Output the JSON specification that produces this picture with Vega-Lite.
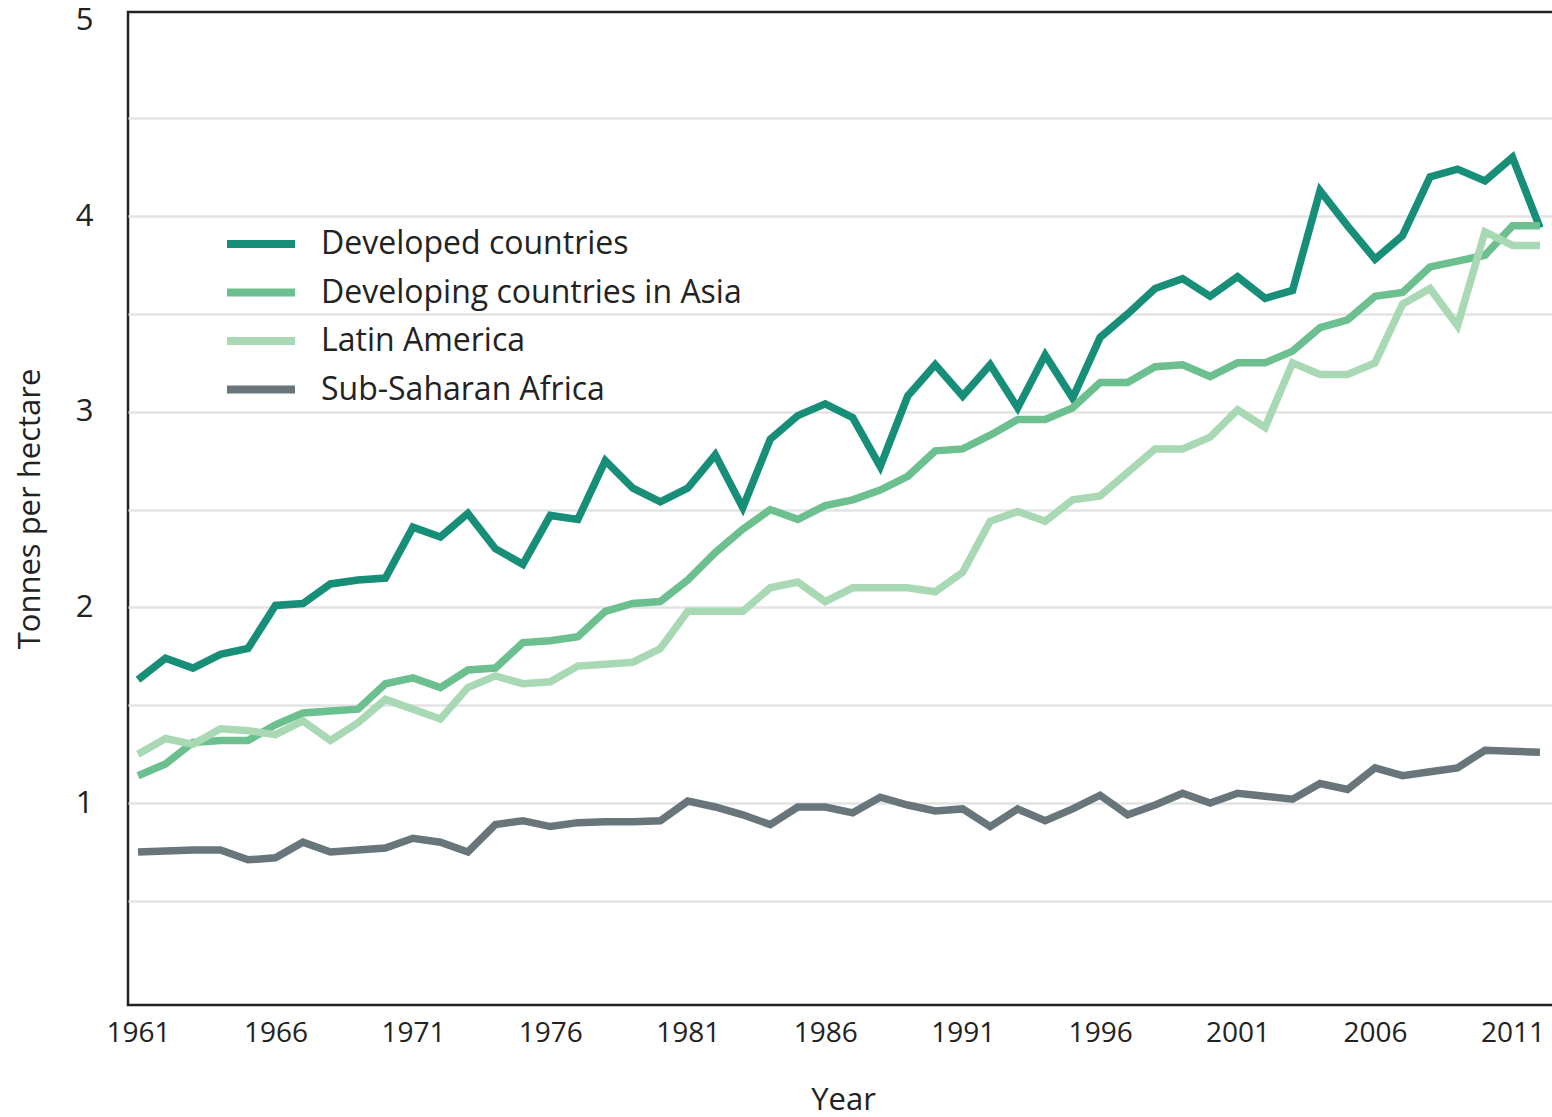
{
  "$schema": "https://vega.github.io/schema/vega-lite/v6.json",
  "width": 1430,
  "height": 993,
  "autosize": {"type": "none"},
  "padding": {"left": 128, "top": 12, "right": 0, "bottom": 112},
  "background": "white",
  "config": {
    "view": {"stroke": "#222222", "strokeWidth": 2.5},
    "font": "Open Sans"
  },
  "data": {
    "values": [
      {"year":1961,"region":"Developed countries","yield":1.63},
      {"year":1962,"region":"Developed countries","yield":1.74},
      {"year":1963,"region":"Developed countries","yield":1.69},
      {"year":1964,"region":"Developed countries","yield":1.76},
      {"year":1965,"region":"Developed countries","yield":1.79},
      {"year":1966,"region":"Developed countries","yield":2.01},
      {"year":1967,"region":"Developed countries","yield":2.02},
      {"year":1968,"region":"Developed countries","yield":2.12},
      {"year":1969,"region":"Developed countries","yield":2.14},
      {"year":1970,"region":"Developed countries","yield":2.15},
      {"year":1971,"region":"Developed countries","yield":2.41},
      {"year":1972,"region":"Developed countries","yield":2.36},
      {"year":1973,"region":"Developed countries","yield":2.48},
      {"year":1974,"region":"Developed countries","yield":2.30},
      {"year":1975,"region":"Developed countries","yield":2.22},
      {"year":1976,"region":"Developed countries","yield":2.47},
      {"year":1977,"region":"Developed countries","yield":2.45},
      {"year":1978,"region":"Developed countries","yield":2.75},
      {"year":1979,"region":"Developed countries","yield":2.61},
      {"year":1980,"region":"Developed countries","yield":2.54},
      {"year":1981,"region":"Developed countries","yield":2.61},
      {"year":1982,"region":"Developed countries","yield":2.78},
      {"year":1983,"region":"Developed countries","yield":2.51},
      {"year":1984,"region":"Developed countries","yield":2.86},
      {"year":1985,"region":"Developed countries","yield":2.98},
      {"year":1986,"region":"Developed countries","yield":3.04},
      {"year":1987,"region":"Developed countries","yield":2.97},
      {"year":1988,"region":"Developed countries","yield":2.72},
      {"year":1989,"region":"Developed countries","yield":3.08},
      {"year":1990,"region":"Developed countries","yield":3.24},
      {"year":1991,"region":"Developed countries","yield":3.08},
      {"year":1992,"region":"Developed countries","yield":3.24},
      {"year":1993,"region":"Developed countries","yield":3.02},
      {"year":1994,"region":"Developed countries","yield":3.29},
      {"year":1995,"region":"Developed countries","yield":3.07},
      {"year":1996,"region":"Developed countries","yield":3.38},
      {"year":1997,"region":"Developed countries","yield":3.50},
      {"year":1998,"region":"Developed countries","yield":3.63},
      {"year":1999,"region":"Developed countries","yield":3.68},
      {"year":2000,"region":"Developed countries","yield":3.59},
      {"year":2001,"region":"Developed countries","yield":3.69},
      {"year":2002,"region":"Developed countries","yield":3.58},
      {"year":2003,"region":"Developed countries","yield":3.62},
      {"year":2004,"region":"Developed countries","yield":4.13},
      {"year":2005,"region":"Developed countries","yield":3.95},
      {"year":2006,"region":"Developed countries","yield":3.78},
      {"year":2007,"region":"Developed countries","yield":3.90},
      {"year":2008,"region":"Developed countries","yield":4.20},
      {"year":2009,"region":"Developed countries","yield":4.24},
      {"year":2010,"region":"Developed countries","yield":4.18},
      {"year":2011,"region":"Developed countries","yield":4.30},
      {"year":2012,"region":"Developed countries","yield":3.94},

      {"year":1961,"region":"Developing countries in Asia","yield":1.14},
      {"year":1962,"region":"Developing countries in Asia","yield":1.20},
      {"year":1963,"region":"Developing countries in Asia","yield":1.31},
      {"year":1964,"region":"Developing countries in Asia","yield":1.32},
      {"year":1965,"region":"Developing countries in Asia","yield":1.32},
      {"year":1966,"region":"Developing countries in Asia","yield":1.40},
      {"year":1967,"region":"Developing countries in Asia","yield":1.46},
      {"year":1968,"region":"Developing countries in Asia","yield":1.47},
      {"year":1969,"region":"Developing countries in Asia","yield":1.48},
      {"year":1970,"region":"Developing countries in Asia","yield":1.61},
      {"year":1971,"region":"Developing countries in Asia","yield":1.64},
      {"year":1972,"region":"Developing countries in Asia","yield":1.59},
      {"year":1973,"region":"Developing countries in Asia","yield":1.68},
      {"year":1974,"region":"Developing countries in Asia","yield":1.69},
      {"year":1975,"region":"Developing countries in Asia","yield":1.82},
      {"year":1976,"region":"Developing countries in Asia","yield":1.83},
      {"year":1977,"region":"Developing countries in Asia","yield":1.85},
      {"year":1978,"region":"Developing countries in Asia","yield":1.98},
      {"year":1979,"region":"Developing countries in Asia","yield":2.02},
      {"year":1980,"region":"Developing countries in Asia","yield":2.03},
      {"year":1981,"region":"Developing countries in Asia","yield":2.14},
      {"year":1982,"region":"Developing countries in Asia","yield":2.28},
      {"year":1983,"region":"Developing countries in Asia","yield":2.40},
      {"year":1984,"region":"Developing countries in Asia","yield":2.50},
      {"year":1985,"region":"Developing countries in Asia","yield":2.45},
      {"year":1986,"region":"Developing countries in Asia","yield":2.52},
      {"year":1987,"region":"Developing countries in Asia","yield":2.55},
      {"year":1988,"region":"Developing countries in Asia","yield":2.60},
      {"year":1989,"region":"Developing countries in Asia","yield":2.67},
      {"year":1990,"region":"Developing countries in Asia","yield":2.80},
      {"year":1991,"region":"Developing countries in Asia","yield":2.81},
      {"year":1992,"region":"Developing countries in Asia","yield":2.88},
      {"year":1993,"region":"Developing countries in Asia","yield":2.96},
      {"year":1994,"region":"Developing countries in Asia","yield":2.96},
      {"year":1995,"region":"Developing countries in Asia","yield":3.02},
      {"year":1996,"region":"Developing countries in Asia","yield":3.15},
      {"year":1997,"region":"Developing countries in Asia","yield":3.15},
      {"year":1998,"region":"Developing countries in Asia","yield":3.23},
      {"year":1999,"region":"Developing countries in Asia","yield":3.24},
      {"year":2000,"region":"Developing countries in Asia","yield":3.18},
      {"year":2001,"region":"Developing countries in Asia","yield":3.25},
      {"year":2002,"region":"Developing countries in Asia","yield":3.25},
      {"year":2003,"region":"Developing countries in Asia","yield":3.31},
      {"year":2004,"region":"Developing countries in Asia","yield":3.43},
      {"year":2005,"region":"Developing countries in Asia","yield":3.47},
      {"year":2006,"region":"Developing countries in Asia","yield":3.59},
      {"year":2007,"region":"Developing countries in Asia","yield":3.61},
      {"year":2008,"region":"Developing countries in Asia","yield":3.74},
      {"year":2009,"region":"Developing countries in Asia","yield":3.77},
      {"year":2010,"region":"Developing countries in Asia","yield":3.80},
      {"year":2011,"region":"Developing countries in Asia","yield":3.95},
      {"year":2012,"region":"Developing countries in Asia","yield":3.95},

      {"year":1961,"region":"Latin America","yield":1.25},
      {"year":1962,"region":"Latin America","yield":1.33},
      {"year":1963,"region":"Latin America","yield":1.30},
      {"year":1964,"region":"Latin America","yield":1.38},
      {"year":1965,"region":"Latin America","yield":1.37},
      {"year":1966,"region":"Latin America","yield":1.35},
      {"year":1967,"region":"Latin America","yield":1.42},
      {"year":1968,"region":"Latin America","yield":1.32},
      {"year":1969,"region":"Latin America","yield":1.41},
      {"year":1970,"region":"Latin America","yield":1.53},
      {"year":1971,"region":"Latin America","yield":1.48},
      {"year":1972,"region":"Latin America","yield":1.43},
      {"year":1973,"region":"Latin America","yield":1.59},
      {"year":1974,"region":"Latin America","yield":1.65},
      {"year":1975,"region":"Latin America","yield":1.61},
      {"year":1976,"region":"Latin America","yield":1.62},
      {"year":1977,"region":"Latin America","yield":1.70},
      {"year":1978,"region":"Latin America","yield":1.71},
      {"year":1979,"region":"Latin America","yield":1.72},
      {"year":1980,"region":"Latin America","yield":1.79},
      {"year":1981,"region":"Latin America","yield":1.98},
      {"year":1982,"region":"Latin America","yield":1.98},
      {"year":1983,"region":"Latin America","yield":1.98},
      {"year":1984,"region":"Latin America","yield":2.10},
      {"year":1985,"region":"Latin America","yield":2.13},
      {"year":1986,"region":"Latin America","yield":2.03},
      {"year":1987,"region":"Latin America","yield":2.10},
      {"year":1988,"region":"Latin America","yield":2.10},
      {"year":1989,"region":"Latin America","yield":2.10},
      {"year":1990,"region":"Latin America","yield":2.08},
      {"year":1991,"region":"Latin America","yield":2.18},
      {"year":1992,"region":"Latin America","yield":2.44},
      {"year":1993,"region":"Latin America","yield":2.49},
      {"year":1994,"region":"Latin America","yield":2.44},
      {"year":1995,"region":"Latin America","yield":2.55},
      {"year":1996,"region":"Latin America","yield":2.57},
      {"year":1997,"region":"Latin America","yield":2.69},
      {"year":1998,"region":"Latin America","yield":2.81},
      {"year":1999,"region":"Latin America","yield":2.81},
      {"year":2000,"region":"Latin America","yield":2.87},
      {"year":2001,"region":"Latin America","yield":3.01},
      {"year":2002,"region":"Latin America","yield":2.92},
      {"year":2003,"region":"Latin America","yield":3.25},
      {"year":2004,"region":"Latin America","yield":3.19},
      {"year":2005,"region":"Latin America","yield":3.19},
      {"year":2006,"region":"Latin America","yield":3.25},
      {"year":2007,"region":"Latin America","yield":3.55},
      {"year":2008,"region":"Latin America","yield":3.63},
      {"year":2009,"region":"Latin America","yield":3.44},
      {"year":2010,"region":"Latin America","yield":3.92},
      {"year":2011,"region":"Latin America","yield":3.85},
      {"year":2012,"region":"Latin America","yield":3.85},

      {"year":1961,"region":"Sub-Saharan Africa","yield":0.75},
      {"year":1962,"region":"Sub-Saharan Africa","yield":0.755},
      {"year":1963,"region":"Sub-Saharan Africa","yield":0.76},
      {"year":1964,"region":"Sub-Saharan Africa","yield":0.76},
      {"year":1965,"region":"Sub-Saharan Africa","yield":0.71},
      {"year":1966,"region":"Sub-Saharan Africa","yield":0.72},
      {"year":1967,"region":"Sub-Saharan Africa","yield":0.80},
      {"year":1968,"region":"Sub-Saharan Africa","yield":0.75},
      {"year":1969,"region":"Sub-Saharan Africa","yield":0.76},
      {"year":1970,"region":"Sub-Saharan Africa","yield":0.77},
      {"year":1971,"region":"Sub-Saharan Africa","yield":0.82},
      {"year":1972,"region":"Sub-Saharan Africa","yield":0.80},
      {"year":1973,"region":"Sub-Saharan Africa","yield":0.75},
      {"year":1974,"region":"Sub-Saharan Africa","yield":0.89},
      {"year":1975,"region":"Sub-Saharan Africa","yield":0.91},
      {"year":1976,"region":"Sub-Saharan Africa","yield":0.88},
      {"year":1977,"region":"Sub-Saharan Africa","yield":0.90},
      {"year":1978,"region":"Sub-Saharan Africa","yield":0.905},
      {"year":1979,"region":"Sub-Saharan Africa","yield":0.905},
      {"year":1980,"region":"Sub-Saharan Africa","yield":0.91},
      {"year":1981,"region":"Sub-Saharan Africa","yield":1.01},
      {"year":1982,"region":"Sub-Saharan Africa","yield":0.98},
      {"year":1983,"region":"Sub-Saharan Africa","yield":0.94},
      {"year":1984,"region":"Sub-Saharan Africa","yield":0.89},
      {"year":1985,"region":"Sub-Saharan Africa","yield":0.98},
      {"year":1986,"region":"Sub-Saharan Africa","yield":0.98},
      {"year":1987,"region":"Sub-Saharan Africa","yield":0.95},
      {"year":1988,"region":"Sub-Saharan Africa","yield":1.03},
      {"year":1989,"region":"Sub-Saharan Africa","yield":0.99},
      {"year":1990,"region":"Sub-Saharan Africa","yield":0.96},
      {"year":1991,"region":"Sub-Saharan Africa","yield":0.97},
      {"year":1992,"region":"Sub-Saharan Africa","yield":0.88},
      {"year":1993,"region":"Sub-Saharan Africa","yield":0.97},
      {"year":1994,"region":"Sub-Saharan Africa","yield":0.91},
      {"year":1995,"region":"Sub-Saharan Africa","yield":0.97},
      {"year":1996,"region":"Sub-Saharan Africa","yield":1.04},
      {"year":1997,"region":"Sub-Saharan Africa","yield":0.94},
      {"year":1998,"region":"Sub-Saharan Africa","yield":0.99},
      {"year":1999,"region":"Sub-Saharan Africa","yield":1.05},
      {"year":2000,"region":"Sub-Saharan Africa","yield":1.00},
      {"year":2001,"region":"Sub-Saharan Africa","yield":1.05},
      {"year":2002,"region":"Sub-Saharan Africa","yield":1.035},
      {"year":2003,"region":"Sub-Saharan Africa","yield":1.02},
      {"year":2004,"region":"Sub-Saharan Africa","yield":1.10},
      {"year":2005,"region":"Sub-Saharan Africa","yield":1.07},
      {"year":2006,"region":"Sub-Saharan Africa","yield":1.18},
      {"year":2007,"region":"Sub-Saharan Africa","yield":1.14},
      {"year":2008,"region":"Sub-Saharan Africa","yield":1.16},
      {"year":2009,"region":"Sub-Saharan Africa","yield":1.18},
      {"year":2010,"region":"Sub-Saharan Africa","yield":1.27},
      {"year":2011,"region":"Sub-Saharan Africa","yield":1.265},
      {"year":2012,"region":"Sub-Saharan Africa","yield":1.26}
    ]
  },
  "mark": {"type": "line", "strokeWidth": 7.5, "strokeJoin": "miter"},
  "encoding": {
    "x": {
      "field": "year",
      "type": "quantitative",
      "scale": {"domain": [1960.636, 2012.656], "nice": false, "zero": false},
      "axis": {
        "title": "Year",
        "values": [1961,1966,1971,1976,1981,1986,1991,1996,2001,2006,2011],
        "format": "d",
        "labelFontSize": 28,
        "labelColor": "#222222",
        "labelPadding": 14,
        "labelFont": "Open Sans",
        "ticks": false,
        "domain": false,
        "grid": false,
        "titleFontSize": 31,
        "titleFontWeight": "normal",
        "titleColor": "#222222",
        "titleFont": "Open Sans",
        "titlePadding": 38,
        "titleX": 715
      }
    },
    "y": {
      "field": "yield",
      "type": "quantitative",
      "scale": {"domain": [-0.032, 5.043], "nice": false, "zero": false},
      "axis": {
        "title": "Tonnes per hectare",
        "values": [0.5,1,1.5,2,2.5,3,3.5,4,4.5,5],
        "labelExpr": "datum.value % 1 === 0 ? format(datum.value, 'd') : ''",
        "labelFontSize": 31,
        "labelColor": "#222222",
        "labelPadding": 35,
        "labelFont": "Open Sans",
        "ticks": false,
        "domain": false,
        "grid": true,
        "gridColor": {"condition": {"test": "datum.value === 5", "value": "transparent"}, "value": "#e3e3e3"},
        "gridWidth": 2.5,
        "titleFontSize": 31,
        "titleFontWeight": "normal",
        "titleColor": "#222222",
        "titleFont": "Open Sans",
        "titlePadding": 29
      }
    },
    "color": {
      "field": "region",
      "type": "nominal",
      "scale": {
        "domain": ["Developed countries", "Developing countries in Asia", "Latin America", "Sub-Saharan Africa"],
        "range": ["#178e78", "#6cbf8f", "#a9d8b4", "#68767b"]
      },
      "legend": {
        "title": null,
        "orient": "none",
        "legendX": 112,
        "legendY": 211,
        "symbolType": "M-2,0H2",
        "symbolSize": 1156,
        "symbolStrokeWidth": 8,
        "labelFontSize": 32,
        "labelFont": "Open Sans",
        "labelColor": "#222222",
        "labelOffset": 39,
        "rowPadding": 11.5,
        "labelLimit": 600
      }
    }
  }
}
